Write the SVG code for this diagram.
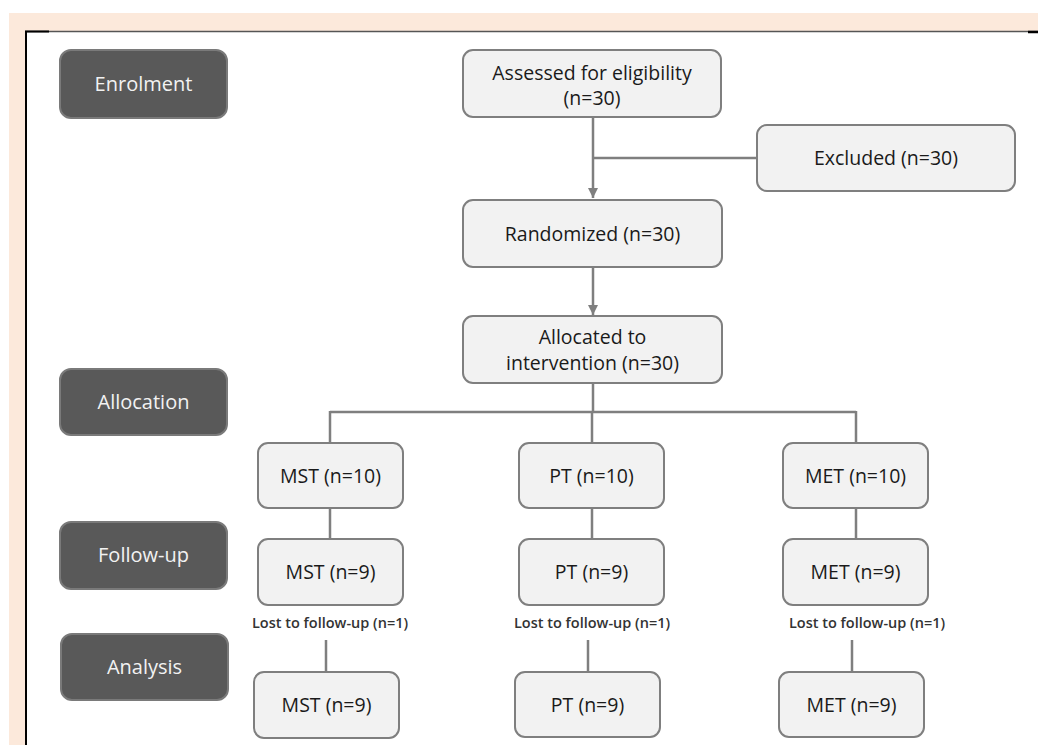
<svg xmlns="http://www.w3.org/2000/svg" width="1038" height="745" viewBox="0 0 1038 745">
<defs>
<style>
.box{fill:#f2f2f2;stroke:#7f7f7f;stroke-width:2}
.stage{fill:#595959;stroke:#7a7a7a;stroke-width:2}
.t{font-family:"Open Sans","Liberation Sans",sans-serif;font-size:19.5px;fill:#1a1a1a;text-anchor:middle}
.st{font-family:"Open Sans","Liberation Sans",sans-serif;font-size:20px;fill:#f2f2f2;text-anchor:middle}
.lost{font-family:"Open Sans","Liberation Sans",sans-serif;font-size:14.5px;font-weight:600;fill:#333333;text-anchor:middle}
.c{stroke:#7f7f7f;stroke-width:2.5;fill:none}
</style>
<marker id="ah" viewBox="0 0 10 10" refX="10" refY="5" markerWidth="4.4" markerHeight="4" orient="auto" markerUnits="strokeWidth">
<path d="M0,0 L10,5 L0,10 z" fill="#7f7f7f"/>
</marker>
</defs>
<rect x="0" y="0" width="1038" height="745" fill="#ffffff"/>
<rect x="9" y="13" width="1029" height="732" fill="#fce9db"/>
<rect x="26" y="32" width="1012" height="713" fill="#ffffff"/>
<line x1="25" y1="31.5" x2="1038" y2="31.5" stroke="#555555" stroke-width="1.5"/>
<line x1="25" y1="31.5" x2="49" y2="31.5" stroke="#000000" stroke-width="2"/>
<line x1="1028" y1="32" x2="1038" y2="32" stroke="#000000" stroke-width="2.5"/>
<line x1="26" y1="31" x2="26" y2="745" stroke="#000000" stroke-width="2"/>

<g id="connectors">
<line class="c" x1="593" y1="117" x2="593" y2="198" marker-end="url(#ah)"/>
<line class="c" x1="593" y1="158" x2="757" y2="158"/>
<line class="c" x1="593" y1="267" x2="593" y2="315" marker-end="url(#ah)"/>
<line class="c" x1="593" y1="383" x2="593" y2="412"/>
<line class="c" x1="330" y1="412" x2="856" y2="412"/>
<line class="c" x1="330" y1="411" x2="330" y2="443"/>
<line class="c" x1="592" y1="412" x2="592" y2="443"/>
<line class="c" x1="856" y1="411" x2="856" y2="443"/>
<line class="c" x1="330" y1="508" x2="330" y2="539"/>
<line class="c" x1="592" y1="508" x2="592" y2="539"/>
<line class="c" x1="856" y1="508" x2="856" y2="539"/>
<line class="c" x1="326" y1="640" x2="326" y2="672"/>
<line class="c" x1="588" y1="640" x2="588" y2="672"/>
<line class="c" x1="852" y1="640" x2="852" y2="672"/>
</g>

<g id="enrolment"><rect class="stage" x="60" y="50" width="167" height="68" rx="11"/><text class="st" x="143.5" y="91">Enrolment</text></g>
<g id="allocation"><rect class="stage" x="60" y="369" width="167" height="66" rx="11"/><text class="st" x="143.5" y="409">Allocation</text></g>
<g id="followup"><rect class="stage" x="60" y="522" width="167" height="67" rx="11"/><text class="st" x="143.5" y="562">Follow-up</text></g>
<g id="analysis"><rect class="stage" x="61" y="634" width="167" height="66" rx="11"/><text class="st" x="144.5" y="674">Analysis</text></g>

<g id="assessed"><rect class="box" x="463" y="50" width="258" height="67" rx="10"/><text class="t" x="592" y="79.5">Assessed for eligibility</text><text class="t" x="592" y="104.5">(n=30)</text></g>
<g id="excluded"><rect class="box" x="757" y="125" width="258" height="66" rx="10"/><text class="t" x="886" y="165">Excluded (n=30)</text></g>
<g id="randomized"><rect class="box" x="463" y="200" width="259" height="67" rx="10"/><text class="t" x="592.5" y="240.5">Randomized (n=30)</text></g>
<g id="allocated"><rect class="box" x="463" y="316" width="259" height="67" rx="10"/><text class="t" x="592.5" y="343.5">Allocated to</text><text class="t" x="592.5" y="369.5">intervention (n=30)</text></g>

<g id="mst10"><rect class="box" x="258" y="443" width="145" height="65" rx="10"/><text class="t" x="330.5" y="482.5">MST (n=10)</text></g>
<g id="pt10"><rect class="box" x="519" y="443" width="145" height="65" rx="10"/><text class="t" x="591.5" y="482.5">PT (n=10)</text></g>
<g id="met10"><rect class="box" x="783" y="443" width="145" height="65" rx="10"/><text class="t" x="855.5" y="482.5">MET (n=10)</text></g>

<g id="mst9a"><rect class="box" x="258" y="539" width="145" height="66" rx="10"/><text class="t" x="330.5" y="578.5">MST (n=9)</text></g>
<g id="pt9a"><rect class="box" x="519" y="539" width="145" height="66" rx="10"/><text class="t" x="591.5" y="578.5">PT (n=9)</text></g>
<g id="met9a"><rect class="box" x="783" y="539" width="145" height="66" rx="10"/><text class="t" x="855.5" y="578.5">MET (n=9)</text></g>

<g id="lost1"><text class="lost" x="330" y="628">Lost to follow-up (n=1)</text></g>
<g id="lost2"><text class="lost" x="592" y="628">Lost to follow-up (n=1)</text></g>
<g id="lost3"><text class="lost" x="867" y="628">Lost to follow-up (n=1)</text></g>

<g id="mst9b"><rect class="box" x="254" y="672" width="145" height="66" rx="10"/><text class="t" x="326.5" y="711.5">MST (n=9)</text></g>
<g id="pt9b"><rect class="box" x="515" y="672" width="145" height="65" rx="10"/><text class="t" x="587.5" y="711.5">PT (n=9)</text></g>
<g id="met9b"><rect class="box" x="779" y="672" width="145" height="65" rx="10"/><text class="t" x="851.5" y="711.5">MET (n=9)</text></g>
</svg>
